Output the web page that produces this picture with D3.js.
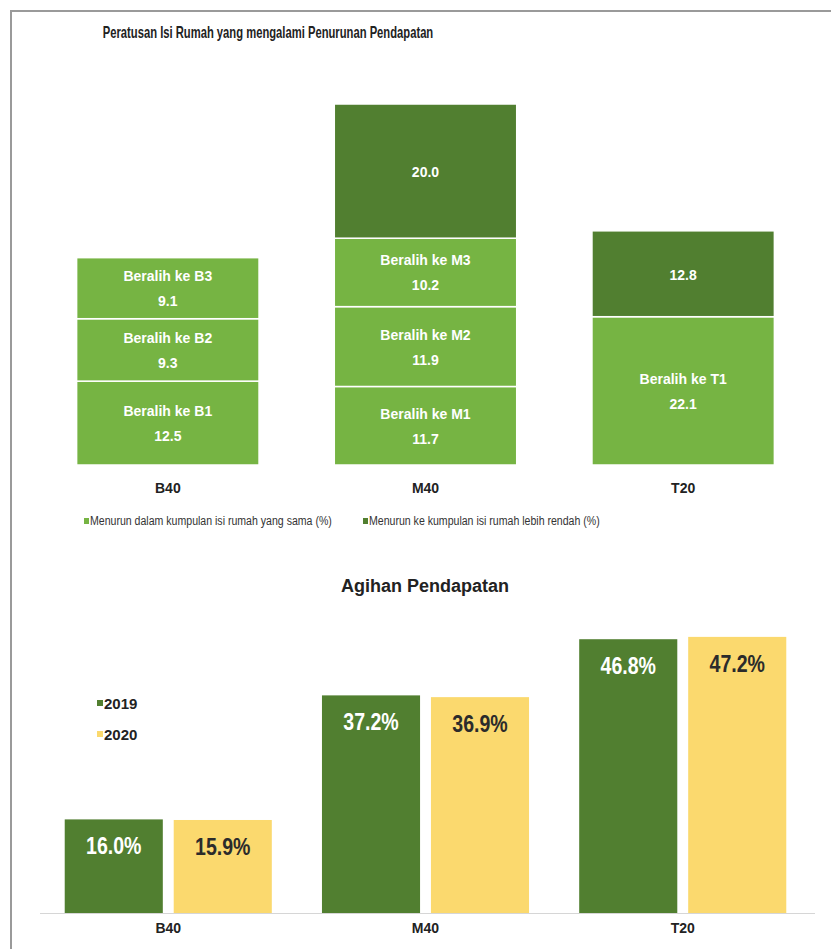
<!DOCTYPE html>
<meta charset="utf-8">
<style>
body { margin: 0; background: #fff; }
text { font-family: "Liberation Sans Narrow", "Arial Narrow", "Liberation Sans", sans-serif; }
.seg text { fill: #fff; font-weight: bold; font-size: 14px; }
.cat { font-weight: bold; font-size: 14px; fill: #222; }
</style>
<body>
<script src="https://d3js.org/d3.v7.min.js"></script>
<script>

// top chart: peratusan isi rumah yang mengalami penurunan pendapatan
var groups = ["B40", "M40", "T20"];
var sameGroup = {
  B40: [["Beralih ke B1", 12.5], ["Beralih ke B2", 9.3], ["Beralih ke B3", 9.1]],
  M40: [["Beralih ke M1", 11.7], ["Beralih ke M2", 11.9], ["Beralih ke M3", 10.2]],
  T20: [["Beralih ke T1", 22.1]]
};
var lowerGroup = [0, 20.0, 12.8];   // B40 has none

// bottom chart: agihan pendapatan
var years = ["2019", "2020"];
var share2019 = [16.0, 37.2, 46.8];
var share2020 = [15.9, 36.9, 47.2];

var light = "#76b443", dark = "#517f30", yellow = "#fbd96e";

// no narrow font installed, so squeeze the glyphs a bit
function squeeze(sel, k) {
    sel.each(function() {
        var L = this.getComputedTextLength();
        d3.select(this).attr("textLength", L * k).attr("lengthAdjust", "spacingAndGlyphs");
    });
}

var W = 831, H = 949;
var svg = d3.select("body").append("svg")
    .attr("width", W)
    .attr("height", H);

// frame
svg.append("path")
    .attr("d", "M11," + H + "V11H" + W)
    .attr("fill", "none")
    .attr("stroke", "#9a9a9a")
    .attr("stroke-width", 2);

svg.append("text")
    .attr("x", 268).attr("y", 38)
    .attr("text-anchor", "middle")
    .style("font-size", "16.5px").style("font-weight", "bold").attr("fill", "#222")
    .text("Peratusan Isi Rumah yang mengalami Penurunan Pendapatan")
    .call(squeeze, 0.68);

var x1 = d3.scaleBand()
    .domain(groups)
    .range([39, 812])
    .paddingInner(0.292)
    .paddingOuter(0.146);

var base1 = 465;
var y1 = d3.scaleLinear()
    .domain([0, 53.8])
    .range([base1, 104]);

groups.forEach(function(g, i) {
    var segs = sameGroup[g].map(function(d) { return {label: d[0], value: d[1], color: light}; });
    if (lowerGroup[i] > 0) segs.push({label: null, value: lowerGroup[i], color: dark});
    var acc = 0;
    segs.forEach(function(s) { s.y0 = acc; acc += s.value; s.y1 = acc; });

    var bar = svg.append("g").attr("class", "seg")
        .attr("transform", "translate(" + x1(g) + ",0)");

    var seg = bar.selectAll("g")
        .data(segs)
      .enter().append("g");

    seg.append("rect")
        .attr("y", function(d) { return y1(d.y1); })
        .attr("width", x1.bandwidth())
        .attr("height", function(d) { return y1(d.y0) - y1(d.y1); })
        .attr("fill", function(d) { return d.color; })
        .attr("stroke", "#fff")
        .attr("stroke-width", 1.5);

    seg.each(function(d) {
        var cy = (y1(d.y0) + y1(d.y1)) / 2;
        var t = d3.select(this).append("text")
            .attr("text-anchor", "middle")
            .attr("x", x1.bandwidth() / 2);
        if (d.label) {
            t.append("tspan").attr("x", x1.bandwidth() / 2).attr("y", cy - 7).text(d.label);
            t.append("tspan").attr("x", x1.bandwidth() / 2).attr("y", cy + 18).text(d.value.toFixed(1));
        } else {
            t.attr("y", cy + 6).text(d.value.toFixed(1));
        }
    });

    svg.append("text").attr("class", "cat")
        .attr("x", x1(g) + x1.bandwidth() / 2)
        .attr("y", 493)
        .attr("text-anchor", "middle")
        .text(g);
});

// legend top
var leg1 = [["Menurun dalam kumpulan isi rumah yang sama (%)", light, 84],
            ["Menurun ke kumpulan isi rumah lebih rendah (%)", dark, 363]];
leg1.forEach(function(l) {
    svg.append("rect").attr("x", l[2]).attr("y", 518).attr("width", 5).attr("height", 6).attr("fill", l[1]);
    svg.append("text").attr("x", l[2] + 6).attr("y", 525)
        .style("font-size", "12px").attr("fill", "#333").text(l[0])
        .call(squeeze, 0.88);
});

// bottom chart
svg.append("text")
    .attr("x", 425).attr("y", 592)
    .attr("text-anchor", "middle")
    .style("font-size", "18px").style("font-weight", "bold").attr("fill", "#222")
    .text("Agihan Pendapatan");

var x0 = d3.scaleBand()
    .domain(groups)
    .range([39, 812])
    .paddingInner(0.195)
    .paddingOuter(0.1);

var xs = d3.scaleBand()
    .domain(years)
    .range([0, x0.bandwidth()])
    .paddingInner(0.1);

var base2 = 913;
var y2 = d3.scaleLinear()
    .domain([0, 47.2])
    .range([base2, base2 - 47.2 * 5.85]);

var rows = groups.map(function(g, i) {
    return {group: g, values: [
        {year: "2019", value: share2019[i], fill: dark, text: "#fff"},
        {year: "2020", value: share2020[i], fill: yellow, text: "#2b2b2b"}
    ]};
});

svg.append("line")
    .attr("x1", 40).attr("x2", 815)
    .attr("y1", base2 + 0.5).attr("y2", base2 + 0.5)
    .attr("stroke", "#d6d6d6");

var grp = svg.selectAll(".grp")
    .data(rows)
  .enter().append("g")
    .attr("class", "grp")
    .attr("transform", function(d) { return "translate(" + x0(d.group) + ",0)"; });

var b = grp.selectAll("g")
    .data(function(d) { return d.values; })
  .enter().append("g");

b.append("rect")
    .attr("x", function(d) { return xs(d.year); })
    .attr("y", function(d) { return y2(d.value); })
    .attr("width", xs.bandwidth())
    .attr("height", function(d) { return base2 - y2(d.value); })
    .attr("fill", function(d) { return d.fill; });

b.append("text")
    .attr("x", function(d) { return xs(d.year) + xs.bandwidth() / 2; })
    .attr("y", function(d) { return y2(d.value) + 35; })
    .attr("text-anchor", "middle")
    .style("font-size", "23px").style("font-weight", "bold")
    .attr("fill", function(d) { return d.text; })
    .text(function(d) { return d.value.toFixed(1) + "%"; })
    .call(squeeze, 0.85);

grp.append("text").attr("class", "cat")
    .attr("x", x0.bandwidth() / 2)
    .attr("y", 933)
    .attr("text-anchor", "middle")
    .text(function(d) { return d.group; });

// legend bottom
[["2019", dark, 704], ["2020", yellow, 735]].forEach(function(l) {
    svg.append("rect").attr("x", 97).attr("y", l[2] - 4).attr("width", 6).attr("height", 6).attr("fill", l[1]);
    svg.append("text").attr("x", 104).attr("y", l[2] + 5)
        .style("font-size", "15px").style("font-weight", "bold").attr("fill", "#222").text(l[0]);
});

</script>
